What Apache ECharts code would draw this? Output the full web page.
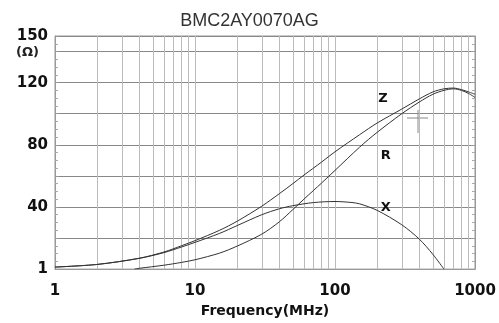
<!DOCTYPE html>
<html><head><meta charset="utf-8">
<script src="https://cdn.jsdelivr.net/npm/echarts@6/dist/echarts.min.js"></script>
<style>html,body{margin:0;padding:0;background:#fff}#c{width:499px;height:323px}</style>
</head><body><div id="c"></div>
<script>
const chartTitle = 'BMC2AY0070AG';
const xName = 'Frequency(MHz)';
const unitText = '(Ω)';
const yTickLabels = {0: '1', 40: '40', 80: '80', 120: '120', 150: '150'};
const minorGridFreqs = [2,3,4,5,6,7,8,9,20,30,40,50,60,70,80,90,200,300,400,500,600,700,800,900];

const zFreq = [1, 2, 4, 6, 8, 10, 15, 20, 30, 40, 50, 60, 80, 100, 150, 200, 300, 400, 500, 600, 700, 800, 900, 1000];
const zVal  = [1.3, 3, 7, 11, 15, 18.3, 25, 30.8, 40.5, 48.5, 55, 60.5, 68.8, 75.5, 86.5, 94, 103, 109.5, 114, 116, 116.5, 115.5, 114, 112.5];

const rFreq = [3.7, 4, 6, 8, 10, 15, 20, 30, 40, 50, 60, 70, 80, 100, 150, 200, 300, 400, 500, 600, 700, 800, 900, 1000];
const rVal  = [0, 0.5, 2.5, 4.3, 6, 10.3, 14.8, 22.5, 30.4, 38.3, 45, 50.5, 55.3, 63.5, 78.5, 88, 100, 107.5, 112.5, 115, 116, 115, 113, 110.5];

const xFreq = [1, 2, 4, 6, 8, 10, 15, 20, 30, 40, 50, 70, 100, 130, 150, 200, 300, 400, 500, 600];
const xVal  = [1.3, 3, 6.9, 10.6, 14.2, 17.2, 23, 28, 35, 38.8, 40.8, 42.8, 43.5, 42.9, 42, 37.8, 28.5, 19.3, 9.5, 0];

const labelNames = ['Z', 'R', 'X'];
const labelFreq = [220, 230, 230];
const labelVal = [110, 73, 39.3];

const chart = echarts.init(document.getElementById('c'), null, {renderer: 'canvas'});
const pairs = (f, v) => f.map((x, i) => [x, v[i]]);
const curveStyle = {color: '#333', width: 1};
function curve(name, f, v, idx) {
  return {
    name, type: 'line', data: pairs(f, v), smooth: 0.3, symbol: 'none',
    lineStyle: curveStyle, silent: true, animation: false, z: 5,
    markPoint: {
      symbol: 'circle', symbolSize: 0, animation: false, silent: true,
      label: {show: true, formatter: labelNames[idx], color: '#111', fontSize: 13, fontWeight: 'bold', fontFamily: 'DejaVu Sans'},
      data: [{coord: [labelFreq[idx], labelVal[idx]]}]
    }
  };
}
const axisLabelStyle = {color: '#111', fontSize: 15, fontWeight: 'bold', fontFamily: 'DejaVu Sans'};
chart.setOption({
  animation: false,
  backgroundColor: '#fff',
  title: {text: chartTitle, left: 'center', top: 7, textStyle: {fontFamily: 'Liberation Sans', fontSize: 18, fontWeight: 'normal', color: '#333'}},
  grid: {left: 55, right: 24, top: 36, bottom: 46, show: true, borderColor: '#999', borderWidth: 1},
  xAxis: {
    type: 'log', logBase: 10, min: 1, max: 1000,
    name: xName, nameLocation: 'middle', nameGap: 27,
    nameTextStyle: {color: '#111', fontSize: 14, fontWeight: 'bold', fontFamily: 'DejaVu Sans'},
    axisLine: {lineStyle: {color: '#999'}},
    axisTick: {show: false},
    axisLabel: Object.assign({margin: 15, formatter: v => String(Math.round(v))}, axisLabelStyle),
    splitLine: {show: true, lineStyle: {color: '#bbb', width: 1}}
  },
  yAxis: [{
    type: 'value', min: 0, max: 150, interval: 20,
    axisLine: {show: true, lineStyle: {color: '#999'}},
    axisTick: {show: true, inside: true, length: 4, lineStyle: {color: '#999'}},
    minorTick: {show: true, splitNumber: 4, length: 3, lineStyle: {color: '#aaa'}},
    axisLabel: Object.assign({margin: 7, formatter: v => (v in yTickLabels ? yTickLabels[v] : '')}, axisLabelStyle),
    splitLine: {show: true, lineStyle: {color: '#888', width: 1}}
  }, {
    type: 'value', min: 0, max: 150, interval: 20, position: 'right',
    axisLine: {show: true, lineStyle: {color: '#999'}},
    axisTick: {show: true, inside: true, length: 4, lineStyle: {color: '#999'}},
    minorTick: {show: true, splitNumber: 4, length: 3, lineStyle: {color: '#aaa'}},
    axisLabel: {show: false},
    splitLine: {show: false}
  }],
  graphic: [
    {type: 'text', left: 16, top: 46, style: {text: unitText, font: 'bold 13px "DejaVu Sans"', fill: '#222'}},
    {type: 'line', shape: {x1: 418, y1: 110, x2: 418, y2: 133}, style: {stroke: '#888', lineWidth: 1}},
    {type: 'line', shape: {x1: 407, y1: 118, x2: 428, y2: 118}, style: {stroke: '#888', lineWidth: 1}}
  ],
  series: [
    {
      type: 'line', data: [], silent: true,
      markLine: {
        symbol: 'none', silent: true, animation: false, label: {show: false},
        lineStyle: {color: '#bbb', width: 1, type: 'solid'},
        data: minorGridFreqs.map(f => ({xAxis: f}))
      }
    },
    curve('Z', zFreq, zVal, 0),
    curve('R', rFreq, rVal, 1),
    curve('X', xFreq, xVal, 2)
  ]
});
</script></body></html>
